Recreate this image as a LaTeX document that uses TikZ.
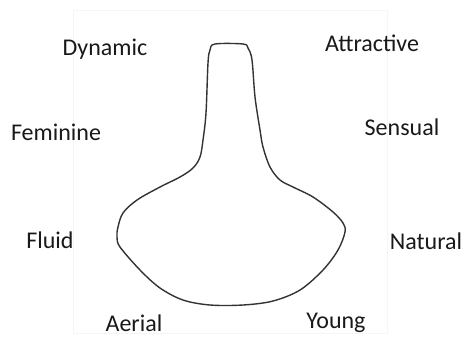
\documentclass[tikz,border=0pt]{standalone}
\usepackage{fontspec}
\setmainfont{Carlito}
\begin{document}
\begin{tikzpicture}[x=1pt,y=-1pt,
  lbl/.style={font=\fontsize{24}{28}\selectfont, text=black!90, inner sep=0pt},
  outline/.style={draw=black!80, line width=1.4pt, line join=round}]
\useasboundingbox (0,0) rectangle (465,341);
\fill[white] (0,0) rectangle (465,341);
\draw[black!4, line width=0.8pt] (73,10) rectangle (387,333);
\draw[outline] plot[smooth cycle, tension=0.55] coordinates {
  (215,44) (243,44) (248,48) (252,60) (255,97) (260,130) (263,147) (270,167)
  (280,180) (293,187) (313,197) (333,212) (343,223) (345,232) (338,250)
  (323,270) (300,290) (273,301) (243,305) (210,305) (183,300) (160,288)
  (140,270) (120,247) (117,237) (118,227) (123,213) (137,200) (160,187)
  (180,177) (193,168) (200,157) (203,140) (206,113) (208,63) (210,50)};
\node[lbl] (dyn) at (105,49) {Dynamic};
\node[lbl] (att) at (372,43) {Attractive};
\node[lbl] (fem) at (56,132) {Feminine};
\node[lbl] (sen) at (402,127) {Sensual};
\node[lbl] (flu) at (50,240) {Fluid};
\node[lbl] (nat) at (426,241) {Natural};
\node[lbl] (aer) at (134,323) {Aerial};
\node[lbl] (you) at (336,323) {Young};
\end{tikzpicture}
\end{document}
